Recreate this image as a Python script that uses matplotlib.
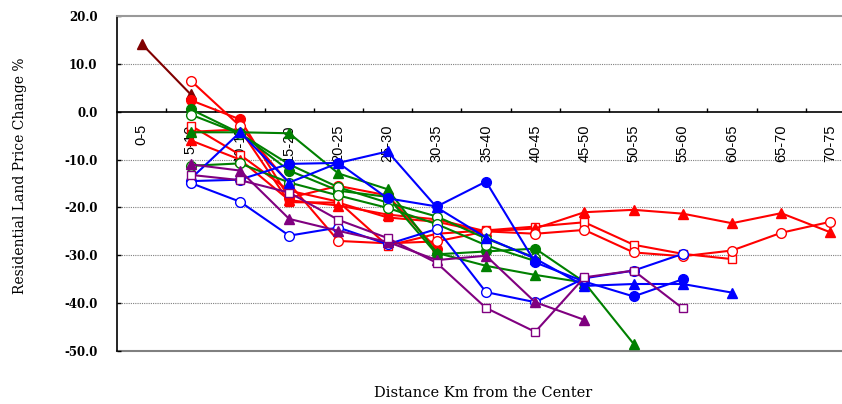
import numpy as np
import matplotlib

matplotlib.use("Agg")
import matplotlib.pyplot as plt

nan = np.nan

# distance bands (km from the centre)
categories = ["0-5", "5-10", "10-15", "15-20", "20-25", "25-30", "30-35", "35-40",
              "40-45", "45-50", "50-55", "55-60", "60-65", "65-70", "70-75"]

# values, one list per line
maroon_tri = [14.2, 3.6, nan, nan, nan, nan, nan, nan, nan, nan, nan, nan, nan, nan, nan]

red_fill_sq = [nan, -4.2, -3.7, -18.9, -19.0, -22.1, -23.0, -25.2, nan, nan, nan, nan, nan, nan, nan]
red_open_sq = [nan, -2.9, -9.0, -16.5, -18.8, -28.0, -25.5, -24.8, -24.0, -23.1, -27.8, -29.7, -30.8, nan, nan]
red_fill_tri = [nan, -6.0, -10.0, -18.5, -19.6, -21.5, -22.5, -25.0, -24.4, -21.0, -20.5, -21.3, -23.3, -21.2, -25.2]
red_fill_circle = [nan, 2.4, -1.6, -18.0, -15.5, -17.5, -28.7, nan, nan, nan, nan, nan, nan, nan, nan]
red_open_circle = [nan, 6.5, -3.0, -15.0, -27.0, -27.5, -27.1, -25.0, -25.5, -24.7, -29.4, -30.2, -29.0, -25.3, -23.0]

green_fill_circle = [nan, 0.5, -4.5, -12.3, -16.5, -17.8, -29.8, -29.2, -28.6, -35.6, nan, nan, nan, nan, nan]
green_open_circle_a = [nan, -0.6, -4.6, -11.0, -15.8, -19.0, -21.9, -26.5, -30.5, nan, nan, nan, nan, nan, nan]
green_open_circle_b = [nan, -11.3, -10.8, -14.8, -17.5, -20.1, -23.5, -27.9, -31.2, nan, nan, nan, nan, nan, nan]
green_tri = [nan, -4.3, -4.3, -4.5, -12.9, -16.2, -29.5, -32.2, -34.1, -35.7, -48.5, nan, nan, nan, nan]

blue_fill_circle = [nan, -14.5, -14.2, -10.9, -10.7, -18.1, -19.8, -14.6, -31.5, -35.5, -38.6, -35.0, nan, nan, nan]
blue_tri = [nan, -14.0, -4.3, -14.8, -10.7, -8.3, -20.0, -26.3, -30.7, -36.4, -36.0, -36.0, -37.8, nan, nan]
blue_open_circle = [nan, -14.9, -18.8, -25.9, -24.2, -27.7, -24.5, -37.7, -39.8, -34.8, -33.2, -29.7, nan, nan, nan]

purple_tri = [nan, -11.0, -12.3, -22.4, -24.9, -27.2, -31.0, -30.1, -39.8, -43.5, nan, nan, nan, nan, nan]
purple_open_sq = [nan, -13.2, -14.3, -16.9, -22.6, -26.4, -31.6, -41.0, -46.0, -34.6, -33.2, -41.1, nan, nan, nan]

y_ticks = [20, 10, 0, -10, -20, -30, -40, -50]

# (values, colour, marker, filled)
SERIES = [
    (maroon_tri, "#800000", "^", True),
    (red_fill_sq, "#FF0000", "s", True),
    (red_open_sq, "#FF0000", "s", False),
    (red_fill_tri, "#FF0000", "^", True),
    (red_fill_circle, "#FF0000", "o", True),
    (red_open_circle, "#FF0000", "o", False),
    (green_fill_circle, "#008000", "o", True),
    (green_open_circle_a, "#008000", "o", False),
    (green_open_circle_b, "#008000", "o", False),
    (green_tri, "#008000", "^", True),
    (blue_fill_circle, "#0000FF", "o", True),
    (blue_tri, "#0000FF", "^", True),
    (blue_open_circle, "#0000FF", "o", False),
    (purple_tri, "#800080", "^", True),
    (purple_open_sq, "#800080", "s", False),
]

fig = plt.figure(figsize=(8.42, 4.04), dpi=100)
# plot area runs past the right edge of the picture, like the original crop
ax = fig.add_axes([117 / 842, 1 - 351 / 404, (855 - 117) / 842, (351 - 16) / 404])

x = np.arange(len(categories))
for values, color, marker, filled in SERIES:
    ax.plot(
        x, values,
        color=color, linewidth=1.5,
        marker=marker, markersize=7 if marker != "s" else 6.3,
        markerfacecolor=color if filled else "white",
        markeredgecolor=color, markeredgewidth=1.0,
        clip_on=False, zorder=3,
    )

ax.set_xlim(-0.5, len(categories) - 0.5)
ax.set_ylim(-50, 20)

# gridlines
for v in [10, -10, -20, -30, -40]:
    ax.axhline(v, color="#808080", linewidth=0.8, linestyle=(0, (1, 1)), zorder=1)
ax.axhline(-50, color="#808080", linewidth=1.5, zorder=1, clip_on=False)

ax.spines["right"].set_visible(False)
ax.spines["top"].set_color("#999999")
ax.spines["top"].set_linewidth(1.5)
ax.spines["left"].set_color("black")
ax.spines["left"].set_linewidth(1.2)
ax.spines["bottom"].set_position(("data", 0))
ax.spines["bottom"].set_color("black")
ax.spines["bottom"].set_linewidth(1.2)

ax.set_yticks(y_ticks)
ax.set_yticklabels([f"{v:.1f}" for v in y_ticks], family="DejaVu Serif",
                   fontweight="bold", fontsize=8.5)
ax.tick_params(axis="y", direction="in", length=3, width=1, pad=14)

ax.set_xticks(np.arange(0.5, len(categories) - 1, 1.0))
ax.set_xticklabels([])
ax.tick_params(axis="x", which="major", direction="in", length=3, width=1)
ax.set_xticks(x, minor=True)
ax.set_xticklabels(categories, minor=True, rotation=90,
                   family="Liberation Sans", fontsize=10.5)
ax.tick_params(axis="x", which="minor", length=0, pad=9)

fig.text(20 / 842, 1 - 176 / 404, "Residential Land Price Change %", rotation=90,
         ha="center", va="center", family="DejaVu Serif", fontsize=10)
fig.text(483 / 842, 1 - 393 / 404, "Distance Km from the Center",
         ha="center", va="center", family="DejaVu Serif", fontsize=10.5)

fig.savefig("out.png", dpi=100)
